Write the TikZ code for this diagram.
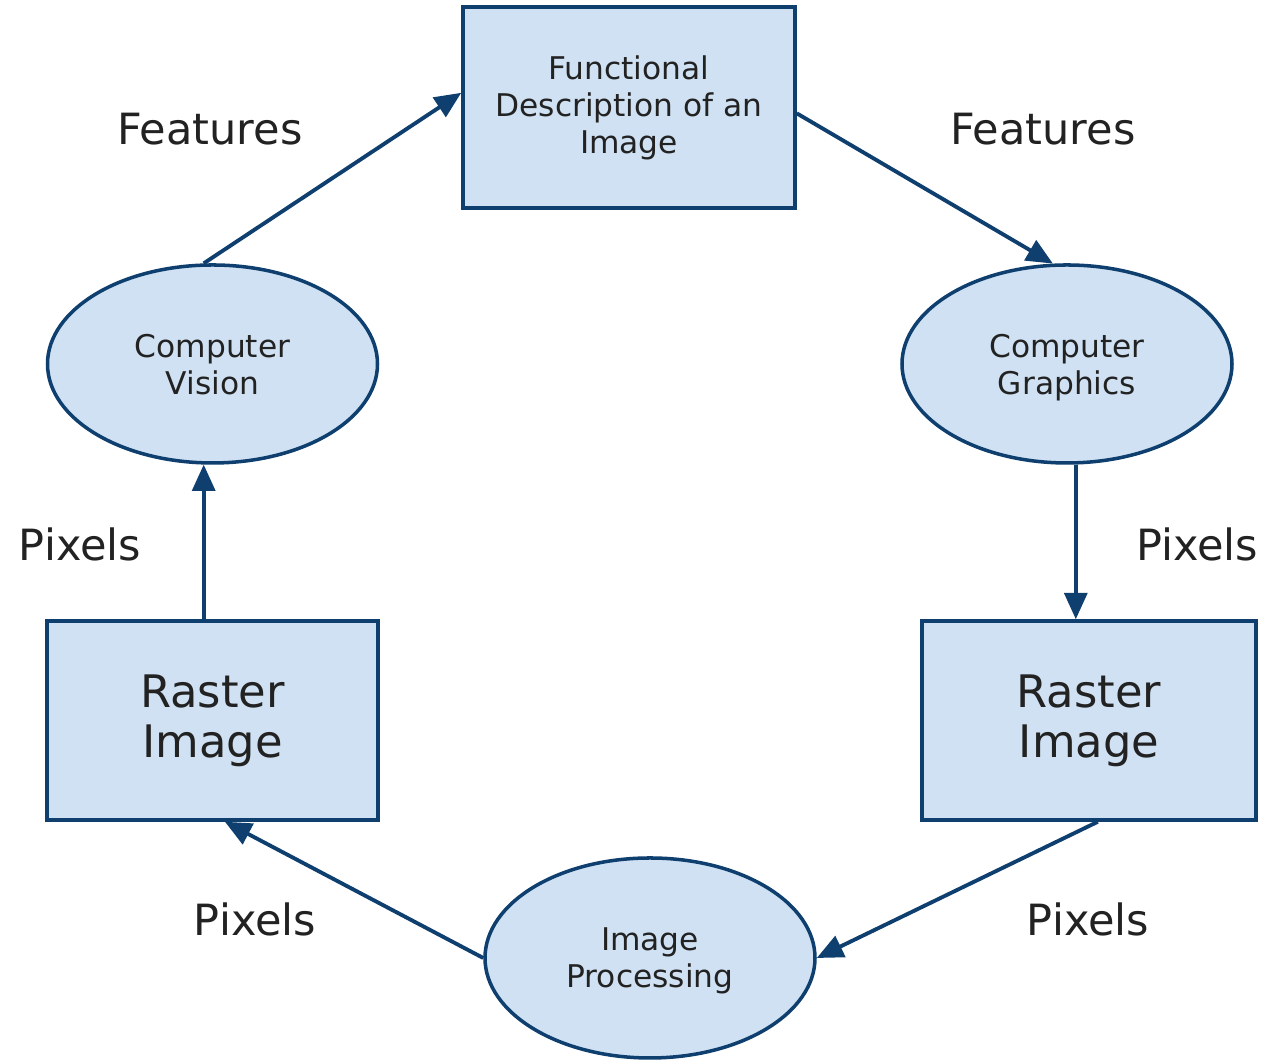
\documentclass[tikz,border=0pt]{standalone}
\usepackage{fontspec}
\setmainfont{DejaVu Sans}
\usetikzlibrary{shapes.geometric,arrows.meta}
\definecolor{boxfill}{HTML}{CFE1F3}
\definecolor{boxline}{HTML}{0E3F6E}
\definecolor{txt}{HTML}{222222}
\begin{document}
\begin{tikzpicture}
  [x=1cm,y=1cm,text=txt,
   every node/.style={align=center,inner sep=0pt},
   blk/.style={rectangle,draw=boxline,fill=boxfill,line width=2pt},
   oval/.style={ellipse,draw=boxline,fill=boxfill,line width=2pt,text depth=0pt,
                minimum width=6.6cm,minimum height=3.96cm},
   small/.style={font=\fontsize{17.8}{21}\selectfont},
   big/.style={font=\fontsize{25.5}{28.5}\selectfont},
   lbl/.style={anchor=base,font=\fontsize{24.5}{28}\selectfont},
   flow/.style={draw=boxline,line width=2.2pt,-{Triangle[length=15pt,width=13pt]}}]
  \useasboundingbox (0,0) rectangle (25.36,21.2);

  \node (fd) [blk,small,minimum width=6.64cm,minimum height=4.02cm] at (12.58,19.05)
        {Functional\\Description of an\\Image};
  \node (cv) [oval,small] at (4.25,13.92)  {Computer\\Vision};
  \node (cg) [oval,small] at (21.34,13.92) {Computer\\Graphics};
  \node (rl) [blk,big,minimum width=6.62cm,minimum height=3.98cm] at (4.25,6.79)  {Raster\\Image};
  \node (rr) [blk,big,minimum width=6.68cm,minimum height=3.98cm] at (21.78,6.79) {Raster\\Image};
  \node (ip) [oval,small,minimum height=4cm] at (13.0,2.04) {Image\\Processing};

  % edge labels
  \node (f1) [lbl] at (4.2,18.3)   {Features};
  \node (f2) [lbl] at (20.86,18.3) {Features};
  \node (p1) [lbl] at (1.6,9.98)   {Pixels};
  \node (p2) [lbl] at (23.94,9.98) {Pixels};
  \node (p3) [lbl] at (5.1,2.48)   {Pixels};
  \node (p4) [lbl] at (21.76,2.48) {Pixels};

  \path[flow] (cv.95) -- (fd.175);
  \path[flow] (fd.358) -- (cg.98);
  \path[flow] (cg.275) -- (cg.275 |- rr.north);
  \path[flow] (rr.-85) -- (ip.east);
  \path[flow] (ip.west) -- (rl.-83);
  \path[flow] (rl.north -| cv.265) -- (cv.265);
\end{tikzpicture}
\end{document}
